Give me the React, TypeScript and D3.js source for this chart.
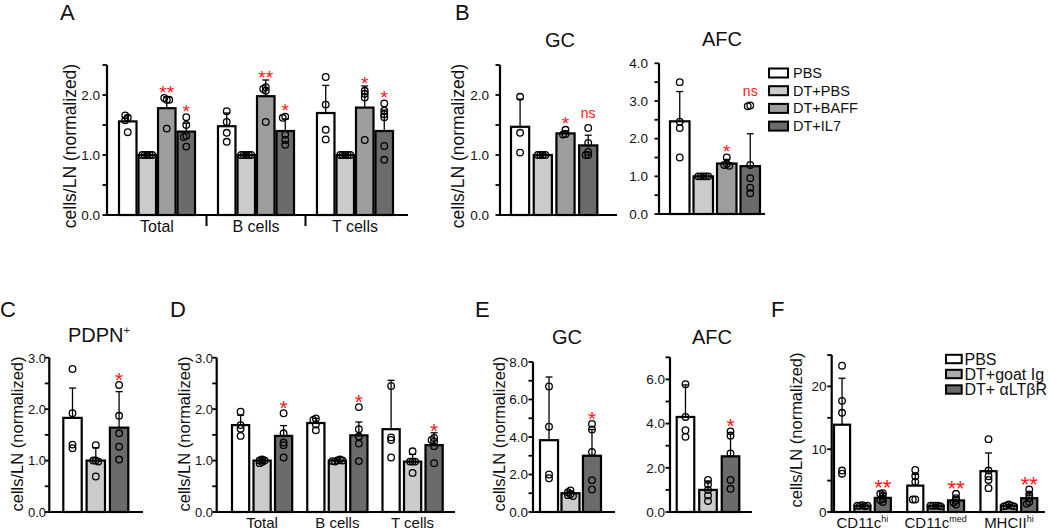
import React, { useEffect } from "react";
import * as d3 from "d3";

const FONT = "Arial, 'Liberation Sans', Helvetica, sans-serif";
const RED = "#ff1414";
const YLABEL = "cells/LN (normalized)";

// ---------------- Panel A ----------------
const aGroups = ["Total", "B cells", "T cells"];
const abSeries = ["PBS", "DT+PBS", "DT+BAFF", "DT+IL7"];
const abColors = ["#ffffff", "#cbcbcb", "#9d9d9d", "#6b6b6b"];
const aMeans = [
  [1.56, 1.0, 1.78, 1.39],
  [1.48, 1.0, 1.98, 1.4],
  [1.7, 1.0, 1.79, 1.4],
];
const aErrTop = [
  [1.66, 1.02, 1.97, 1.53],
  [1.7, 1.02, 2.25, 1.6],
  [2.16, 1.02, 2.15, 1.75],
];
const aDots = [
  [[1.62, 1.66, 1.58, 1.38], [1, 1, 1, 1, 1], [1.92, 1.95, 1.92, 1.44], [1.63, 1.5, 1.32, 1.3, 1.14]],
  [[1.73, 1.55, 1.37, 1.22], [1, 1, 1, 1, 1], [2.13, 2.1, 2.07, 1.55], [1.64, 1.62, 1.34, 1.25, 1.17]],
  [[2.3, 1.84, 1.42, 1.26], [1, 1, 1, 1, 1], [2.07, 2.02, 1.96, 1.25], [1.86, 1.74, 1.68, 1.63, 1.15, 0.92]],
];
const aMarks = [
  ["", "", "**", "*"],
  ["", "", "**", "*"],
  ["", "", "*", "*"],
];

// ---------------- Panel B ----------------
const bGcMeans = [[1.47, 1.0, 1.36, 1.16]];
const bGcErrTop = [[1.93, 1.02, 1.4, 1.33]];
const bGcDots = [[[1.97, 1.37, 1.04], [1, 1, 1, 1], [1.42, 1.35, 1.34], [1.45, 1.2, 1.05, 1.0, 1.0]]];
const bGcMarks = [["", "", "*", "ns"]];

const bAfcMeans = [[2.46, 1.0, 1.34, 1.27]];
const bAfcErrTop = [[3.25, 1.03, 1.45, 2.13]];
const bAfcDots = [[[3.5, 2.45, 2.28, 1.5], [1, 1, 1, 1, 1], [1.5, 1.33, 1.3, 1.28], [2.88, 2.86, 1.3, 0.95, 0.7, 0.55]]];
const bAfcMarks = [["", "", "*", "ns"]];

// ---------------- Panels C, D, E ----------------
const cdeSeries = ["PBS", "DT+PBS", "DT+IL7"];
const cdeColors = ["#ffffff", "#cbcbcb", "#6b6b6b"];

const cMeans = [[1.83, 1.0, 1.64]];
const cErrTop = [[2.41, 1.25, 2.34]];
const cDots = [[[2.78, 1.92, 1.31, 1.24], [1.3, 1.0, 1.0, 0.98, 0.69], [2.47, 1.87, 1.53, 1.27, 1.02]]];
const cMarks = [["", "", "*"]];

const dGroups = ["Total", "B cells", "T cells"];
const dMeans = [
  [1.69, 1.0, 1.48],
  [1.73, 1.0, 1.49],
  [1.61, 0.98, 1.3],
];
const dErrTop = [
  [1.88, 1.03, 1.68],
  [1.82, 1.03, 1.75],
  [2.56, 1.12, 1.54],
];
const dDots = [
  [[1.95, 1.69, 1.62, 1.48], [1.02, 1.0, 0.97, 0.95, 1.0], [1.92, 1.53, 1.35, 1.3, 1.06]],
  [[1.82, 1.79, 1.7, 1.59], [1.0, 0.98, 1.02, 0.99, 1.0], [2.04, 1.61, 1.47, 1.33, 0.99]],
  [[2.45, 1.45, 1.4, 1.06], [1.18, 0.98, 0.98, 0.98, 0.76], [1.44, 1.4, 1.37, 1.28, 0.95]],
];
const dMarks = [
  ["", "", "*"],
  ["", "", "*"],
  ["", "", "*"],
];

const eGcMeans = [[3.83, 1.0, 3.0]];
const eGcErrTop = [[7.2, 1.12, 4.4]];
const eGcDots = [[[6.7, 4.55, 2.0, 1.8], [1.15, 1.05, 0.95, 0.9, 0.85], [4.7, 4.4, 3.2, 1.7, 1.2]]];
const eGcMarks = [["", "", "*"]];

const eAfcMeans = [[4.3, 1.0, 2.52]];
const eAfcErrTop = [[5.75, 1.4, 3.6]];
const eAfcDots = [[[5.78, 4.3, 3.7, 3.4], [1.45, 1.25, 1.0, 0.75, 0.5], [3.65, 3.45, 2.65, 1.45, 1.05]]];
const eAfcMarks = [["", "", "*"]];

// ---------------- Panel F ----------------
const fGroups = [
  ["CD11c", "hi"],
  ["CD11c", "med"],
  ["MHCII", "hi"],
];
const fSeries = ["PBS", "DT+goat Ig", "DT+ \u03b1LT\u03b2R"];
const fColors = ["#ffffff", "#ababab", "#6b6b6b"];
const fMeans = [
  [13.9, 1.0, 2.25],
  [4.2, 1.0, 1.85],
  [6.5, 1.0, 2.2],
];
const fErrTop = [
  [21.3, 1.2, 2.9],
  [6.0, 1.1, 2.4],
  [9.4, 1.2, 2.9],
];
const fDots = [
  [[23.3, 17.7, 15.8, 6.6, 6.1], [1.1, 1.0, 0.9, 1.0, 1.0], [3.0, 2.9, 2.6, 2.1, 1.9, 1.6]],
  [[6.7, 5.7, 4.8, 2.0, 2.0], [1.0, 1.0, 1.0, 1.0, 0.9], [2.9, 2.2, 1.8, 1.5, 1.2]],
  [[11.6, 6.6, 5.7, 5.1, 3.8], [1.2, 1.0, 1.0, 0.9, 0.9], [3.6, 2.8, 2.2, 1.6, 1.3]],
];
const fMarks = [
  ["", "", "**"],
  ["", "", "**"],
  ["", "", "**"],
];

// ------------------------------------------------

function swarm(vals: number[], cx: number, y: (v: number) => number, d: number) {
  const placed: { x: number; y: number }[] = [];
  for (const v of vals) {
    const py = y(v);
    let k = 0;
    for (;;) {
      const off = k === 0 ? 0 : (k % 2 === 1 ? -1 : 1) * Math.ceil(k / 2) * d;
      const px = cx + off;
      const hit = placed.some((p) => Math.hypot(p.x - px, p.y - py) < d * 0.999);
      if (!hit || k > 20) {
        placed.push({ x: px, y: py });
        break;
      }
      k++;
    }
  }
  return placed;
}

type PanelProps = {
  means: number[][];
  errTop: number[][];
  dots: number[][][];
  marks: string[][];
  colors: string[];
  axisX: number;
  axisEnd: number;
  yBottom: number;
  yTop: number;
  yMax: number;
  tickStep: number;
  labelStep: number;
  fmt: (n: number) => string;
  barStart: number;
  barEnd: number;
  gp?: number;
  bp: number;
  labelEnd: number;
  labelSize?: number;
  groupLabels?: React.ReactNode[];
  xLabelY?: number;
  xLabelSize?: number;
  separators?: boolean;
  starSize: number;
};

function Panel(p: PanelProps) {
  const nG = p.means.length;
  const nS = p.means[0].length;
  const y = d3.scaleLinear().domain([0, p.yMax]).range([p.yBottom, p.yTop]);
  const gx = d3
    .scaleBand<number>()
    .domain(d3.range(nG))
    .range([p.barStart, p.barEnd])
    .paddingInner(p.gp ?? 0)
    .paddingOuter(0);
  const bx = d3
    .scaleBand<number>()
    .domain(d3.range(nS))
    .range([0, gx.bandwidth()])
    .paddingInner(p.bp)
    .paddingOuter(0);
  const ticks = d3.range(0, p.yMax + 1e-9, p.tickStep);
  const r = 3.3;
  const bars: React.ReactNode[] = [];
  const errs: React.ReactNode[] = [];
  const dots: React.ReactNode[] = [];
  const marks: React.ReactNode[] = [];
  for (let g = 0; g < nG; g++) {
    for (let s = 0; s < nS; s++) {
      const x0 = (gx(g) as number) + (bx(s) as number);
      const w = bx.bandwidth();
      const cx = x0 + w / 2;
      const m = p.means[g][s];
      bars.push(
        <rect
          key={`b${g}-${s}`}
          x={x0}
          y={y(m)}
          width={w}
          height={p.yBottom - y(m)}
          fill={p.colors[s]}
          stroke="#000"
          strokeWidth={2.2}
        />
      );
      const et = p.errTop[g][s];
      errs.push(
        <g key={`e${g}-${s}`} stroke="#000" strokeWidth={1.3}>
          <line x1={cx} x2={cx} y1={y(m)} y2={y(et)} />
          <line x1={cx - 3.5} x2={cx + 3.5} y1={y(et)} y2={y(et)} />
        </g>
      );
      const pts = swarm(p.dots[g][s], cx, y, 2.5);
      pts.forEach((pt, i) =>
        dots.push(
          <circle
            key={`d${g}-${s}-${i}`}
            cx={pt.x}
            cy={pt.y}
            r={r}
            fill="none"
            stroke="#000"
            strokeWidth={1.3}
          />
        )
      );
      const mk = p.marks[g][s];
      if (mk) {
        const top = Math.min(y(d3.max(p.dots[g][s]) as number) - r, y(et));
        if (mk === "ns") {
          const fs = 14;
          const c = top - 10;
          marks.push(
            <text key={`m${g}-${s}`} x={cx} y={c + 0.26 * fs} textAnchor="middle" fontSize={fs} fill={RED} fontFamily={FONT}>
              ns
            </text>
          );
        } else {
          const fs = p.starSize;
          const c = top - 7;
          marks.push(
            <text key={`m${g}-${s}`} x={cx} y={c + 0.57 * fs} textAnchor="middle" fontSize={fs} fill={RED} fontFamily={FONT}>
              {mk}
            </text>
          );
        }
      }
    }
  }
  const seps: React.ReactNode[] = [];
  if (p.separators) {
    for (let g = 0; g < nG - 1; g++) {
      const xs = ((gx(g) as number) + gx.bandwidth() + (gx(g + 1) as number)) / 2;
      seps.push(<line key={`s${g}`} x1={xs} x2={xs} y1={p.yBottom} y2={p.yBottom + 11} stroke="#000" strokeWidth={2} />);
    }
  }
  return (
    <g>
      {bars}
      {errs}
      {dots}
      <g stroke="#000" strokeWidth={2.2} fill="none">
        <line x1={p.axisX} x2={p.axisX} y1={p.yBottom + 1} y2={p.yTop} />
        <line x1={p.axisX - 1} x2={p.axisEnd} y1={p.yBottom} y2={p.yBottom} />
        {ticks.map((t) => (
          <line key={`t${t}`} x1={p.axisX - 4.5} x2={p.axisX} y1={y(t)} y2={y(t)} strokeWidth={1.8} />
        ))}
      </g>
      {seps}
      {ticks
        .filter((t) => Math.abs(t / p.labelStep - Math.round(t / p.labelStep)) < 1e-6)
        .map((t) => (
          <text
            key={`l${t}`}
            x={p.labelEnd}
            y={y(t) + 4.8}
            textAnchor="end"
            fontSize={p.labelSize ?? 13.5}
            fontFamily={FONT}
            fill="#111"
          >
            {p.fmt(t)}
          </text>
        ))}
      {p.groupLabels &&
        p.groupLabels.map((lab, g) => (
          <text
            key={`g${g}`}
            x={(gx(g) as number) + gx.bandwidth() / 2}
            y={p.xLabelY}
            textAnchor="middle"
            fontSize={p.xLabelSize}
            fontFamily={FONT}
            fill="#111"
          >
            {lab}
          </text>
        ))}
      {marks}
    </g>
  );
}

function YLabel({ x, y, size }: { x: number; y: number; size: number }) {
  return (
    <text
      transform={`translate(${x},${y}) rotate(-90)`}
      textAnchor="middle"
      fontSize={size}
      fontFamily={FONT}
      fill="#111"
    >
      {YLABEL}
    </text>
  );
}

function Txt({ x, y, size, children, anchor = "start" }: any) {
  return (
    <text x={x} y={y} fontSize={size} fontFamily={FONT} fill="#111" textAnchor={anchor}>
      {children}
    </text>
  );
}

const f1 = d3.format(".1f");
const f0 = d3.format("d");

export default function App() {
  useEffect(() => {
    document.body.style.margin = "0";
    document.body.style.overflow = "hidden";
  }, []);
  const legendRowA = (i: number) => 73 + i * 17.7;
  const legendRowF = [359, 374, 389.5];
  return (
    <svg width={1050} height={532} style={{ position: "absolute", left: 0, top: 0, background: "#fff" }}>
      {/* Panel letters */}
      <Txt x={60} y={19.5} size={22}>A</Txt>
      <Txt x={455} y={19.5} size={22}>B</Txt>
      <Txt x={0} y={317} size={22}>C</Txt>
      <Txt x={170} y={317} size={22}>D</Txt>
      <Txt x={475} y={317} size={22}>E</Txt>
      <Txt x={771} y={317} size={22}>F</Txt>

      {/* Panel A */}
      <YLabel x={76} y={146} size={17.5} />
      <Panel
        means={aMeans}
        errTop={aErrTop}
        dots={aDots}
        marks={aMarks}
        colors={abColors}
        axisX={107}
        axisEnd={408}
        yBottom={215}
        yTop={65}
        yMax={2.5}
        tickStep={0.5}
        labelStep={1}
        fmt={f1}
        barStart={119}
        barEnd={393}
        gp={0.232}
        bp={0.103}
        labelEnd={100}
        groupLabels={aGroups}
        xLabelY={232}
        xLabelSize={16}
        separators
        starSize={19}
      />

      {/* Panel B */}
      <Txt x={560} y={47} size={20} anchor="middle">GC</Txt>
      <Txt x={722} y={46} size={20} anchor="middle">AFC</Txt>
      <YLabel x={463.5} y={146} size={17.5} />
      <Panel
        means={bGcMeans}
        errTop={bGcErrTop}
        dots={bGcDots}
        marks={bGcMarks}
        colors={abColors}
        axisX={500}
        axisEnd={617}
        yBottom={215}
        yTop={65}
        yMax={2.5}
        tickStep={0.5}
        labelStep={1}
        fmt={f1}
        barStart={511}
        barEnd={597.3}
        bp={0.2}
        labelEnd={489}
        starSize={19}
      />
      <Panel
        means={bAfcMeans}
        errTop={bAfcErrTop}
        dots={bAfcDots}
        marks={bAfcMarks}
        colors={abColors}
        axisX={659}
        axisEnd={765}
        yBottom={214}
        yTop={63.3}
        yMax={4}
        tickStep={0.5}
        labelStep={1}
        fmt={f1}
        barStart={670}
        barEnd={760}
        bp={0.17}
        labelEnd={648}
        starSize={19}
      />
      {abSeries.map((s, i) => (
        <g key={s}>
          <rect x={769} y={legendRowA(i) - 4.5} width={19} height={9} fill={abColors[i]} stroke="#000" strokeWidth={2} />
          <Txt x={793} y={legendRowA(i) + 5} size={14.5}>{s}</Txt>
        </g>
      ))}

      {/* Panel C */}
      <YLabel x={23} y={434} size={16.5} />
      <text x={99} y={342} fontSize={20} fontFamily={FONT} fill="#111" textAnchor="middle">
        PDPN<tspan fontSize={11} dy={-8}>+</tspan>
      </text>
      <Panel
        means={cMeans}
        errTop={cErrTop}
        dots={cDots}
        marks={cMarks}
        colors={cdeColors}
        axisX={49.3}
        axisEnd={143}
        yBottom={512}
        yTop={357.7}
        yMax={3}
        tickStep={0.5}
        labelStep={1}
        fmt={f1}
        barStart={63.3}
        barEnd={128.3}
        bp={0.21}
        labelEnd={46}
        labelSize={13}
        starSize={21}
      />

      {/* Panel D */}
      <YLabel x={190} y={434} size={16.5} />
      <Panel
        means={dMeans}
        errTop={dErrTop}
        dots={dDots}
        marks={dMarks}
        colors={cdeColors}
        axisX={216.7}
        axisEnd={455}
        yBottom={512}
        yTop={357.7}
        yMax={3}
        tickStep={0.5}
        labelStep={1}
        fmt={f1}
        barStart={232}
        barEnd={442.7}
        gp={0.2}
        bp={0.2}
        labelEnd={213}
        labelSize={13}
        groupLabels={dGroups}
        xLabelY={528}
        xLabelSize={15}
        starSize={21}
      />

      {/* Panel E */}
      <Txt x={567} y={344} size={20} anchor="middle">GC</Txt>
      <Txt x={712} y={344} size={20} anchor="middle">AFC</Txt>
      <YLabel x={505} y={434} size={16.5} />
      <Panel
        means={eGcMeans}
        errTop={eGcErrTop}
        dots={eGcDots}
        marks={eGcMarks}
        colors={cdeColors}
        axisX={533}
        axisEnd={615}
        yBottom={512}
        yTop={362}
        yMax={8}
        tickStep={1}
        labelStep={2}
        fmt={f1}
        barStart={540}
        barEnd={601}
        bp={0.16}
        labelEnd={528}
        starSize={21}
      />
      <Panel
        means={eAfcMeans}
        errTop={eAfcErrTop}
        dots={eAfcDots}
        marks={eAfcMarks}
        colors={cdeColors}
        axisX={670}
        axisEnd={752}
        yBottom={512}
        yTop={357.3}
        yMax={7}
        tickStep={1}
        labelStep={2}
        fmt={f1}
        barStart={676.7}
        barEnd={739.3}
        bp={0.22}
        labelEnd={665}
        starSize={21}
      />

      {/* Panel F */}
      <YLabel x={802} y={430} size={16.5} />
      <Panel
        means={fMeans}
        errTop={fErrTop}
        dots={fDots}
        marks={fMarks}
        colors={fColors}
        axisX={831.7}
        axisEnd={1045}
        yBottom={512}
        yTop={355}
        yMax={25}
        tickStep={5}
        labelStep={10}
        fmt={f0}
        barStart={834}
        barEnd={1037.3}
        gp={0.224}
        bp={0.21}
        labelEnd={826.5}
        groupLabels={fGroups.map(([b, sup]) => (
          <>
            {b}
            <tspan fontSize={9} dy={-6}>
              {sup}
            </tspan>
          </>
        ))}
        xLabelY={528}
        xLabelSize={15}
        starSize={22}
      />
      {fSeries.map((s, i) => (
        <g key={s}>
          <rect x={946} y={legendRowF[i] - 4.2} width={15.7} height={8.4} fill={fColors[i]} stroke="#000" strokeWidth={2} />
          <Txt x={964.5} y={legendRowF[i] + 5.8} size={16}>{s}</Txt>
        </g>
      ))}
    </svg>
  );
}
